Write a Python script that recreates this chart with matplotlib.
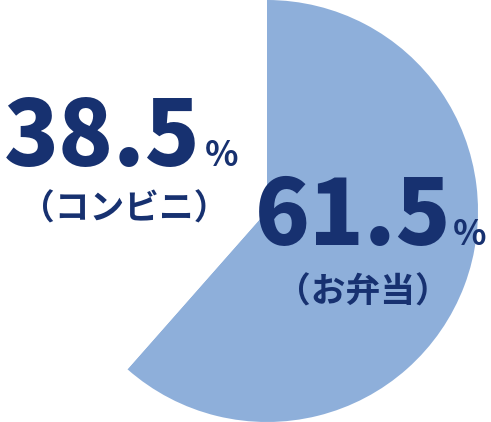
import matplotlib
matplotlib.use('Agg')
import matplotlib.pyplot as plt


# data
labels = ['お弁当', 'コンビニ']
values = [61.5, 38.5]
colors = ['#8eafda', 'white']
text_color = '#173170'

W, H = 491, 422
plt.rcParams['font.family'] = ['Noto Sans CJK JP', 'DejaVu Sans']

fig = plt.figure(figsize=(W / 100, H / 100), dpi=100)
ax = fig.add_axes([56 / W, 0, 422 / W, 1])
ax.pie(values, colors=colors, startangle=90, counterclock=False,
       wedgeprops=dict(linewidth=0))
ax.set_aspect('equal')
ax.set_xlim(-1, 1)
ax.set_ylim(-1, 1)
ax.axis('off')


def px(x, y):
    return x / W, 1 - y / H


# label positions in pixels (left, baseline)
num_pos = [(255, 245), (4, 166)]
pct_pos = [(453, 245), (205, 166)]
sub_pos = [(276, 303), (20, 220)]

for lab, v, npos, ppos, spos in zip(labels, values, num_pos, pct_pos, sub_pos):
    fig.text(*px(*npos), f'{v:.1f}', fontsize=65, fontweight='heavy',
             color=text_color, ha='left', va='baseline')
    fig.text(*px(*ppos), '%', fontsize=25, fontweight='bold',
             color=text_color, ha='left', va='baseline')
    fig.text(*px(*spos), f'（{lab}）', fontsize=25, fontweight='bold',
             color=text_color, ha='left', va='baseline')

fig.savefig('out.png', dpi=100)
